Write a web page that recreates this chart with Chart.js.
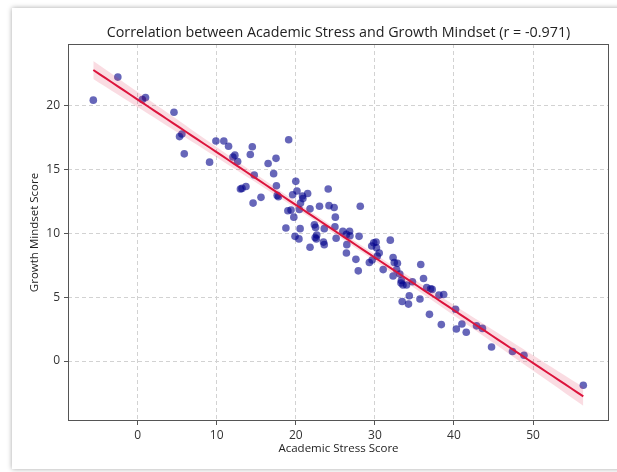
<!DOCTYPE html>
<html>
<head>
<meta charset="utf-8">
<script src="https://cdn.jsdelivr.net/npm/chart.js@4.4.0/dist/chart.umd.min.js"></script>
<style>
    html, body { margin: 0; padding: 0; background: #fff; width: 617px; height: 472px; overflow: hidden; }
    #card { position: absolute; left: 12px; top: 8px; width: 640px; height: 461px; background: #fff;
            box-shadow: 0 0 5px rgba(0, 0, 0, 0.35); }
    #wrap { position: absolute; left: 0; top: 0; width: 617px; height: 472px; }
</style>
</head>
<body>
<div id="card"></div>
<div id="wrap"><canvas id="mycanvas"></canvas></div>
<script>
// values
const stressScores = [
    -5.6, -2.5, 0.6, 1.0, 4.6, 5.3, 5.6, 5.9, 9.1, 9.9,
    10.9, 11.5, 12.05, 12.3, 12.65, 13.0, 13.2, 13.7, 14.5, 14.25,
    14.75, 14.6, 15.6, 16.5, 17.5, 17.2, 17.55, 17.65, 17.8, 19.1,
    20.0, 19.6, 20.15, 20.85, 20.9, 21.5, 24.1, 20.6, 20.45, 19.0,
    19.75, 19.4, 21.8, 23.0, 24.2, 24.85, 28.15, 25.0, 18.75, 20.55,
    19.9, 20.4, 22.35, 22.5, 23.6, 22.65, 22.45, 22.6, 21.8, 23.5,
    23.6, 24.95, 25.1, 25.95, 26.8, 26.4, 28.0, 26.45, 26.4, 27.6,
    27.9, 29.3, 29.6, 29.85, 30.15, 30.2, 29.65, 30.55, 30.3, 31.05,
    31.95, 32.3, 32.45, 32.85, 32.75, 32.3, 33.15, 33.35, 33.3, 33.55,
    34.0, 34.75, 35.8, 36.15, 36.55, 37.05, 37.25, 38.1, 38.7, 33.45,
    34.25, 34.35, 35.7, 36.9, 38.4, 40.2, 40.3, 41.0, 41.55, 42.85,
    43.6, 44.75, 47.4, 48.85, 56.35, 26.85
];
const mindsetScores = [
    20.4, 22.2, 20.45, 20.6, 19.45, 17.55, 17.75, 16.2, 15.55, 17.2,
    17.2, 16.8, 15.95, 16.1, 15.6, 13.45, 13.5, 13.65, 16.75, 16.15,
    14.55, 12.35, 12.8, 15.45, 15.85, 14.65, 13.7, 12.95, 12.85, 17.3,
    14.05, 13.0, 13.3, 12.9, 12.7, 13.1, 13.45, 12.35, 11.85, 11.75,
    11.25, 11.8, 11.9, 12.1, 12.15, 12.0, 12.1, 11.25, 10.4, 10.35,
    9.75, 9.55, 10.65, 10.45, 10.35, 9.85, 9.65, 9.55, 8.9, 9.3,
    9.1, 10.5, 9.6, 10.15, 10.15, 9.9, 9.75, 9.1, 8.45, 7.95,
    7.05, 7.7, 9.0, 9.25, 9.3, 8.85, 7.9, 8.45, 8.2, 7.15,
    9.45, 8.1, 7.7, 7.65, 7.15, 6.65, 6.8, 6.3, 6.1, 5.95,
    5.95, 6.2, 7.55, 6.45, 5.75, 5.65, 5.6, 5.15, 5.2, 4.65,
    4.45, 5.1, 4.85, 3.65, 2.85, 4.05, 2.5, 2.9, 2.25, 2.75,
    2.55, 1.1, 0.75, 0.45, -1.9, 9.8
];
const xTicks = [0, 10, 20, 30, 40, 50];
const yTicks = [0, 5, 10, 15, 20];
const chartTitle = 'Correlation between Academic Stress and Growth Mindset (r = -0.971)';

// least squares fit with 95% confidence band, like a regplot
const regression = (xs, ys) => {
    const n = xs.length;
    const mx = xs.reduce((a, b) => a + b, 0) / n;
    const my = ys.reduce((a, b) => a + b, 0) / n;
    let sxx = 0, sxy = 0;
    for (let i = 0; i < n; i++) {
        sxx += (xs[i] - mx) * (xs[i] - mx);
        sxy += (xs[i] - mx) * (ys[i] - my);
    }
    const slope = sxy / sxx;
    const icpt = my - slope * mx;
    let sse = 0;
    for (let i = 0; i < n; i++) {
        const e = ys[i] - (icpt + slope * xs[i]);
        sse += e * e;
    }
    const s = Math.sqrt(sse / (n - 2));
    const lo = Math.min(...xs), hi = Math.max(...xs);
    const line = [], upper = [], lower = [];
    for (let i = 0; i <= 80; i++) {
        const x = lo + (hi - lo) * i / 80;
        const y = icpt + slope * x;
        const h = 1.98 * s * Math.sqrt(1 / n + (x - mx) * (x - mx) / sxx);
        line.push({x: x, y: y});
        upper.push({x: x, y: y + h});
        lower.push({x: x, y: y - h});
    }
    return {line, upper, lower};
};

const fit = regression(stressScores, mindsetScores);
const points = stressScores.map((x, i) => ({x: x, y: mindsetScores[i]}));

const font = "'Open Sans', 'DejaVu Sans', sans-serif";

// box round the plot and the title centred over it
const frame = {
    id: 'frame',
    afterDraw(chart) {
        const {ctx, chartArea: a} = chart;
        ctx.save();
        ctx.strokeStyle = '#555';
        ctx.lineWidth = 1;
        ctx.strokeRect(a.left + 0.5, a.top + 0.5, a.right - a.left - 1, a.bottom - a.top - 1);
        ctx.fillStyle = '#222';
        ctx.font = "14.3px " + font;
        ctx.textAlign = 'center';
        ctx.textBaseline = 'middle';
        ctx.fillText(chartTitle, (a.left + a.right) / 2, 33);
        ctx.restore();
    }
};

const gridOpts = {
    color: '#d2d2d2',
    tickColor: '#555',
    tickLength: 4,
    tickWidth: 1
};

const ctx = document.getElementById("mycanvas").getContext("2d");
const myChart = new Chart(ctx, {
    type: 'scatter',
    data: {
        datasets: [{
            type: 'line',
            data: fit.line,
            borderColor: '#dc143c',
            borderWidth: 2,
            pointRadius: 0,
            fill: false,
            order: 0
        }, {
            type: 'line',
            data: fit.upper,
            borderWidth: 0,
            borderColor: 'rgba(0,0,0,0)',
            pointRadius: 0,
            fill: false,
            order: 1
        }, {
            type: 'line',
            data: fit.lower,
            borderWidth: 0,
            borderColor: 'rgba(0,0,0,0)',
            backgroundColor: 'rgba(220, 20, 60, 0.15)',
            pointRadius: 0,
            fill: '-1',
            order: 2
        }, {
            data: points,
            backgroundColor: 'rgba(0, 0, 139, 0.6)',
            borderWidth: 0,
            pointRadius: 3.8,
            order: 3
        }]
    },
    options: {
        responsive: true,
        maintainAspectRatio: false,
        animation: false,
        layout: { padding: { left: 28, right: 8, top: 44, bottom: 16 } },
        plugins: {
            legend: { display: false },
            tooltip: { enabled: false },
            title: { display: false }
        },
        scales: {
            x: {
                type: 'linear',
                min: -8.8,
                max: 59.6,
                afterBuildTicks: (axis) => { axis.ticks = xTicks.map(v => ({value: v})); },
                afterFit: (axis) => { axis.height = 35; },
                grid: gridOpts,
                border: { display: false, dash: [4, 3] },
                ticks: { color: '#333', font: { family: font, size: 12 }, padding: 3, maxRotation: 0 },
                title: {
                    display: true,
                    text: 'Academic Stress Score',
                    color: '#222',
                    font: { family: font, size: 11.5 },
                    padding: 0
                }
            },
            y: {
                type: 'linear',
                min: -4.69,
                max: 24.79,
                afterBuildTicks: (axis) => { axis.ticks = yTicks.map(v => ({value: v})); },
                afterFit: (axis) => { axis.width = 40; },
                grid: gridOpts,
                border: { display: false, dash: [4, 3] },
                ticks: { color: '#333', font: { family: font, size: 12 }, padding: 4 },
                title: {
                    display: true,
                    text: 'Growth Mindset Score',
                    color: '#222',
                    font: { family: font, size: 11.5 },
                    padding: 0
                }
            }
        }
    },
    plugins: [frame]
});
</script>
</body>
</html>
